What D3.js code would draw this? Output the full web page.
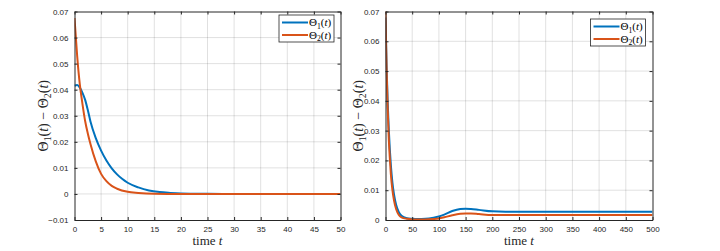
<!DOCTYPE html>
<html>
<head>
<meta charset="utf-8">
<script src="https://cdn.jsdelivr.net/npm/d3@7"></script>
<style>
  body { margin: 0; background: #fff; }
  svg { display: block; }
  .serif { font-family: "Liberation Serif", "DejaVu Serif", serif; }
</style>
</head>
<body>
<div id="chart"></div>
<script>
// values
const leftT = [0, 0.5, 1, 1.5, 2, 2.5, 3, 4, 5, 6, 7, 8, 9, 10, 12, 14, 16, 18, 20, 25, 30, 40, 50];
const leftTheta1 = [0.0415, 0.0418, 0.0408, 0.0388, 0.0361, 0.0322, 0.0278, 0.0214, 0.0166, 0.0128, 0.0098, 0.0075, 0.0057, 0.0043, 0.0025, 0.0013, 0.0007, 0.0004, 0.0002, 0.00005, 0, 0, 0];
const leftT2 = [0, 0.5, 1, 1.5, 2, 2.5, 3, 4, 5, 6, 7, 8, 10, 12, 15, 20, 30, 50];
const leftTheta2 = [0.0675, 0.053, 0.042, 0.0345, 0.028, 0.0232, 0.0192, 0.0125, 0.0077, 0.0049, 0.0031, 0.002, 0.0008, 0.0004, 0.0001, 0, 0, 0];

const rightT = [0, 2, 4, 6, 8, 10, 13, 16, 20, 25, 30, 40, 50, 60, 75, 90, 100, 110, 125, 140, 150, 160, 175, 200, 225, 250, 300, 400, 500];
const rightTheta1 = [0.068, 0.052, 0.040, 0.031, 0.024, 0.0185, 0.0125, 0.0085, 0.005, 0.0026, 0.0014, 0.0006, 0.0004, 0.0003, 0.0004, 0.0008, 0.0012, 0.0018, 0.0030, 0.0037, 0.0038, 0.0037, 0.0034, 0.0029, 0.0028, 0.0028, 0.0028, 0.0028, 0.0028];
const rightTheta2 = [0.070, 0.051, 0.038, 0.028, 0.021, 0.0155, 0.010, 0.0065, 0.0036, 0.0017, 0.0009, 0.0004, 0.0002, 0.00015, 0.00015, 0.0003, 0.0005, 0.0009, 0.0016, 0.0021, 0.0022, 0.0022, 0.0020, 0.0017, 0.0017, 0.0017, 0.0017, 0.0017, 0.0017];

const leftXTicks = [0, 5, 10, 15, 20, 25, 30, 35, 40, 45, 50];
const leftYTicks = [-0.01, 0, 0.01, 0.02, 0.03, 0.04, 0.05, 0.06, 0.07];
const rightXTicks = [0, 50, 100, 150, 200, 250, 300, 350, 400, 450, 500];
const rightYTicks = [0, 0.01, 0.02, 0.03, 0.04, 0.05, 0.06, 0.07];

const seriesNames = ["1", "2"];   // subscripts of Θ
const colors = ["#0072BD", "#D95319"];

const W = 720, H = 251;
const svg = d3.select("#chart").append("svg")
  .attr("width", W).attr("height", H);

const panels = [
  { x0: 74.5, x1: 340.5, y0: 11.5, y1: 220, xd: [0, 50], yd: [-0.01, 0.07],
    xt: leftXTicks, yt: leftYTicks,
    series: [[leftT, leftTheta1], [leftT2, leftTheta2]],
    legend: { x: 279, y: 15 }, ylabX: 43 },
  { x0: 385.5, x1: 652.5, y0: 11.5, y1: 220, xd: [0, 500], yd: [0, 0.07],
    xt: rightXTicks, yt: rightYTicks,
    series: [[rightT, rightTheta1], [rightT, rightTheta2]],
    legend: { x: 590.5, y: 19 }, ylabX: 358 }
];

const tickFont = "'Liberation Sans', Arial, sans-serif";

// writes Θ_k(t) into a text element
function theta(sel, k, size) {
  sel.append("tspan").text("Θ");
  sel.append("tspan").text(k).attr("font-size", size * 0.7).attr("dy", size * 0.22);
  sel.append("tspan").text("(").attr("dy", -size * 0.22);
  sel.append("tspan").text("t").attr("font-style", "italic");
  sel.append("tspan").text(")");
}

panels.forEach(function(p, i) {
  const x = d3.scaleLinear().domain(p.xd).range([p.x0, p.x1]);
  const y = d3.scaleLinear().domain(p.yd).range([p.y1, p.y0]);
  const g = svg.append("g");

  g.append("clipPath").attr("id", "clip" + i)
    .append("rect").attr("x", p.x0).attr("y", p.y0 - 1)
    .attr("width", p.x1 - p.x0).attr("height", p.y1 - p.y0 + 2);

  // grid
  g.append("g").selectAll("line").data(p.xt.slice(1, -1)).join("line")
    .attr("x1", d => x(d)).attr("x2", d => x(d))
    .attr("y1", p.y0).attr("y2", p.y1)
    .attr("stroke", "#000").attr("stroke-opacity", 0.12);
  g.append("g").selectAll("line").data(p.yt.slice(1, -1)).join("line")
    .attr("y1", d => y(d)).attr("y2", d => y(d))
    .attr("x1", p.x0).attr("x2", p.x1)
    .attr("stroke", "#000").attr("stroke-opacity", 0.12);

  // curves
  const line = d3.line().curve(d3.curveMonotoneX)
    .x(d => x(d[0])).y(d => y(d[1]));
  p.series.forEach(function(s, j) {
    g.append("path")
      .datum(s[0].map((t, k) => [t, s[1][k]]))
      .attr("d", line)
      .attr("fill", "none")
      .attr("stroke", colors[j])
      .attr("stroke-width", 2)
      .attr("clip-path", "url(#clip" + i + ")");
  });

  // axes, MATLAB style box with inward ticks
  const tl = -3;
  g.append("g").attr("transform", "translate(0," + p.y1 + ")")
    .call(d3.axisBottom(x).tickValues(p.xt).tickSizeInner(tl).tickSizeOuter(0).tickPadding(6));
  g.append("g").attr("transform", "translate(0," + p.y0 + ")")
    .call(d3.axisTop(x).tickValues(p.xt).tickSizeInner(tl).tickSizeOuter(0).tickFormat(""));
  g.append("g").attr("transform", "translate(" + p.x0 + ",0)")
    .call(d3.axisLeft(y).tickValues(p.yt).tickSizeInner(tl).tickSizeOuter(0).tickPadding(6)
      .tickFormat(d => d === 0 ? "0" : d3.format(".2f")(d)));
  g.append("g").attr("transform", "translate(" + p.x1 + ",0)")
    .call(d3.axisRight(y).tickValues(p.yt).tickSizeInner(tl).tickSizeOuter(0).tickFormat(""));

  g.selectAll(".domain").attr("stroke", "#262626");
  g.selectAll(".tick line").attr("stroke", "#262626");
  g.selectAll(".tick text").attr("fill", "#262626")
    .style("font-family", tickFont).style("font-size", "8px");

  // x label
  const xl = g.append("text").attr("class", "serif")
    .attr("x", (p.x0 + p.x1) / 2).attr("y", 245)
    .attr("text-anchor", "middle")
    .style("font-size", "13px").attr("fill", "#262626");
  xl.append("tspan").text("time ");
  xl.append("tspan").text("t").attr("font-style", "italic");

  // y label
  const yl = g.append("text").attr("class", "serif")
    .attr("transform", "translate(" + (p.ylabX + 5) + "," + ((p.y0 + p.y1) / 2) + ") rotate(-90)")
    .attr("text-anchor", "middle")
    .style("font-size", "14px").attr("fill", "#262626");
  theta(yl, "1", 14);
  yl.append("tspan").text(" − ");
  theta(yl, "2", 14);

  // legend
  const lg = g.append("g").attr("transform", "translate(" + p.legend.x + "," + p.legend.y + ")");
  lg.append("rect").attr("width", 55).attr("height", 27)
    .attr("fill", "#fff").attr("stroke", "#262626").attr("stroke-width", 0.8);
  seriesNames.forEach(function(k, j) {
    const cy = 7.5 + j * 12.5;
    lg.append("line").attr("x1", 3).attr("x2", 29).attr("y1", cy).attr("y2", cy)
      .attr("stroke", colors[j]).attr("stroke-width", 2);
    const t = lg.append("text").attr("class", "serif").attr("x", 30).attr("y", cy + 3.8)
      .style("font-size", "11px").attr("fill", "#000");
    theta(t, k, 11);
  });
});
</script>
</body>
</html>
